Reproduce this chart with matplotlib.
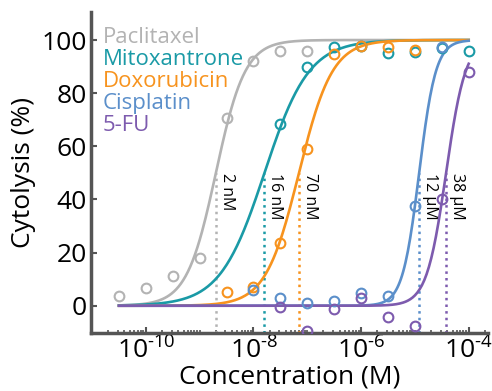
import numpy as np
import matplotlib
matplotlib.use("Agg")
import matplotlib.pyplot as plt
from matplotlib.ticker import FixedLocator, NullFormatter

plt.rcParams['font.family'] = ['Open Sans', 'DejaVu Sans']
plt.rcParams['mathtext.fontset'] = 'custom'
plt.rcParams['mathtext.rm'] = 'Open Sans'
plt.rcParams['mathtext.it'] = 'Open Sans:italic'
plt.rcParams['mathtext.bf'] = 'Open Sans:bold'

# drug names, colours, fitted IC50 (M), hill slopes and label text
drugs = ['Paclitaxel', 'Mitoxantrone', 'Doxorubicin', 'Cisplatin', '5-FU']
colors = ['#b3b3b3', '#1a9aa6', '#f7931e', '#5b8fca', '#7d5bae']
ic50 = [2e-9, 16e-9, 70e-9, 12e-6, 38e-6]
hill = [1.6, 1.05, 1.4, 2.8, 2.4]
ic50_labels = ['2 nM', '16 nM', '70 nM', '12 \u00b5M', '38 \u00b5M']
xtick_exp = [-10, -8, -6, -4]

# measured points: log10 concentration and cytolysis (%)
paclitaxel_logc = [-10.5, -10, -9.5, -9, -8.5, -8, -7.5, -7]
paclitaxel_y = [3.8, 6.8, 11.3, 18.1, 70.6, 92, 96, 96]
mitoxantrone_logc = [-7.5, -7, -6.5, -6, -5.5, -5, -4.5, -4]
mitoxantrone_y = [68.3, 89.8, 97.4, 97.7, 95, 95.5, 97, 95.8]
doxorubicin_logc = [-8.5, -8, -7.5, -7, -6.5, -6, -5.5, -5]
doxorubicin_y = [5, 7, 23.8, 58.9, 94.7, 97.7, 97.4, 96.2]
cisplatin_logc = [-8, -7.5, -7, -6.5, -6, -5.5, -5, -4.5]
cisplatin_y = [5.8, 2.8, 0.9, 1.9, 4.9, 3.8, 37.7, 97.4]
fu_logc = [-7.5, -7, -6.5, -6, -5.5, -5, -4.5, -4]
fu_y = [-0.6, -9.6, -1.1, 3, -4.2, -7.5, 40, 88]

points = [(paclitaxel_logc, paclitaxel_y), (mitoxantrone_logc, mitoxantrone_y),
          (doxorubicin_logc, doxorubicin_y), (cisplatin_logc, cisplatin_y),
          (fu_logc, fu_y)]

fig = plt.figure(figsize=(4.92, 3.91), dpi=100)
ax = fig.add_axes([0.185, 0.148, 0.807, 0.821])

xfit = np.logspace(-10.5, -4, 300)
for name, c, ec, h, (lx, ly), lab in zip(drugs, colors, ic50, hill, points, ic50_labels):
    yfit = 100 / (1 + (ec / xfit) ** h)
    ax.plot(xfit, yfit, color=c, lw=1.9, zorder=3)
    ax.plot(10 ** np.array(lx), ly, 'o', mfc='none', mec=c, mew=1.5, ms=7, zorder=4)
    ax.plot([ec, ec], [-10.3, 50], ls=':', color=c, lw=1.8, zorder=2)
    ax.text(ec * 1.12, 50, lab, rotation=270, ha='left', va='top', fontsize=11.5,
            color='black')

# coloured names in place of a legend
for i, (name, c) in enumerate(zip(drugs, colors)):
    ax.text(0.03, 0.922 - i * 0.0685, name, transform=ax.transAxes, color=c,
            fontsize=16, ha='left', va='center')

ax.set_xscale('log')
ax.set_xlim(10 ** -11.02, 10 ** -3.64)
ax.set_ylim(-10.3, 110.5)

ax.xaxis.set_major_locator(FixedLocator([10.0 ** e for e in xtick_exp]))
ax.set_xticklabels([r'$\mathregular{10^{\text{-%d}}}$' % -e for e in xtick_exp])
minor = [m * 10.0 ** e for e in range(-11, -3) for m in range(1, 10)]
ax.xaxis.set_minor_locator(FixedLocator(minor))
ax.xaxis.set_minor_formatter(NullFormatter())
ax.set_yticks([0, 20, 40, 60, 80, 100])

for s in ['top', 'right']:
    ax.spines[s].set_visible(False)
for s in ['left', 'bottom']:
    ax.spines[s].set_linewidth(2.5)
    ax.spines[s].set_color('#555555')

ax.tick_params(axis='both', which='major', direction='in', length=4, width=1.5,
               color='#555555', labelsize=19, pad=3)
ax.tick_params(axis='x', which='minor', direction='in', length=2.5, width=1.2,
               color='#555555')

ax.set_ylabel('Cytolysis (%)', fontsize=19, labelpad=4)
ax.set_xlabel('Concentration (M)', fontsize=19, labelpad=0)

plt.savefig('out.png', dpi=100)
